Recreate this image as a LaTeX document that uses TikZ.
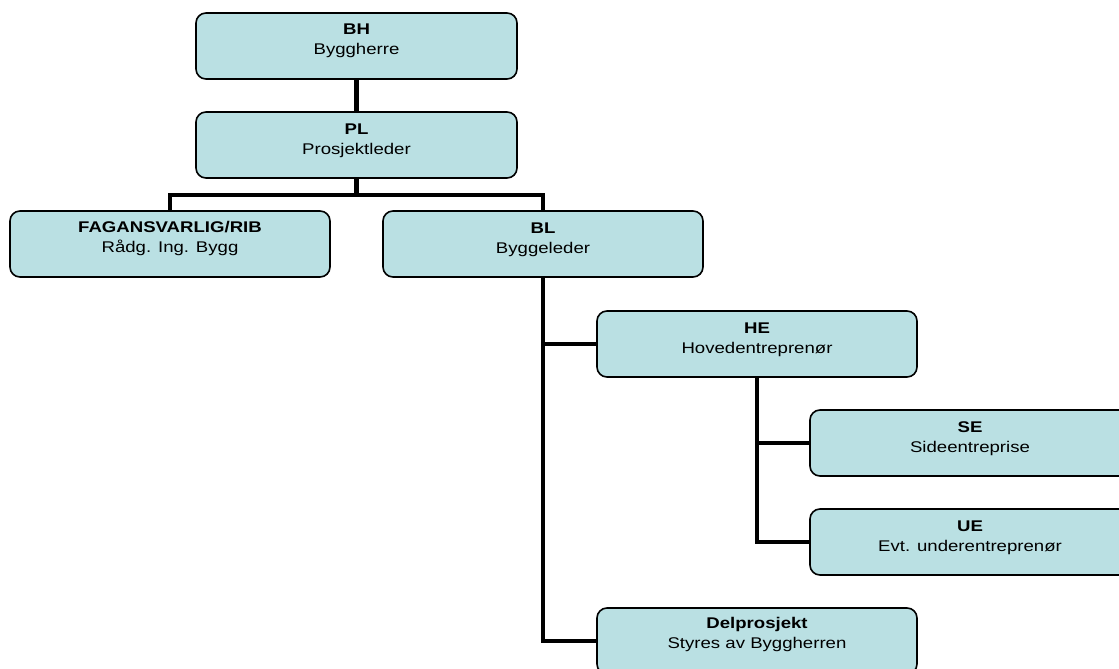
\documentclass[tikz,border=0pt]{standalone}
\usepackage{fontspec}
\setmainfont{Liberation Sans}[FakeStretch=1.2]
\usetikzlibrary{backgrounds}
\definecolor{boxfill}{RGB}{186,224,227}
\begin{document}
\begin{tikzpicture}[x=1pt,y=-1pt,
  orgbox/.style={draw=black,line width=1.6pt,fill=boxfill,rounded corners=10pt,
    minimum width=320pt,minimum height=66pt,inner sep=0pt,outer sep=0pt},
  orgtext/.style={align=center,inner sep=0pt,anchor=base,font=\fontsize{15.5}{20}\selectfont},
  conn/.style={line width=4.6pt,line join=miter}]
\clip (0,0) rectangle (1119,669);
\node[orgbox,minimum width=321pt] (bh) at (356.5,46) {};
\node[orgbox,minimum width=321pt] (pl) at (356.5,145) {};
\node[orgbox] (fag) at (170,244) {};
\node[orgbox] (bl) at (543,244) {};
\node[orgbox] (he) at (757,344) {};
\node[orgbox] (se) at (970,443) {};
\node[orgbox] (ue) at (970,542) {};
\node[orgbox] (del) at (757,641) {};
\coordinate (bus) at (356.5,195);
\begin{scope}[on background layer]
\draw[conn] (bh.south) -- (pl.north);
\draw[conn] (pl.south) -- (bus);
\draw[conn] (fag.north) |- (bus) -| (bl.north);
\draw[conn] (bl.south) |- (del.west);
\draw[conn] (he.west) -| (bl.south);
\draw[conn] (he.south) |- (ue.west);
\draw[conn] (se.west) -| (he.south);
\end{scope}
\node[orgtext] (tbh) at ([yshift=-42pt]bh.north) {\textbf{BH}\\Byggherre};
\node[orgtext] (tpl) at ([yshift=-42pt]pl.north) {\textbf{PL}\\Prosjektleder};
\node[orgtext] (tfag) at ([yshift=-41pt]fag.north) {\textbf{FAGANSVARLIG/RIB}\\Rådg. Ing. Bygg};
\node[orgtext] (tbl) at ([yshift=-42pt]bl.north) {\textbf{BL}\\Byggeleder};
\node[orgtext] (the) at ([yshift=-42pt]he.north) {\textbf{HE}\\Hovedentreprenør};
\node[orgtext] (tse) at ([yshift=-42pt]se.north) {\textbf{SE}\\Sideentreprise};
\node[orgtext] (tue) at ([yshift=-42pt]ue.north) {\textbf{UE}\\Evt. underentreprenør};
\node[orgtext] (tdel) at ([yshift=-40pt]del.north) {\textbf{Delprosjekt}\\Styres av Byggherren};
\end{tikzpicture}
\end{document}
